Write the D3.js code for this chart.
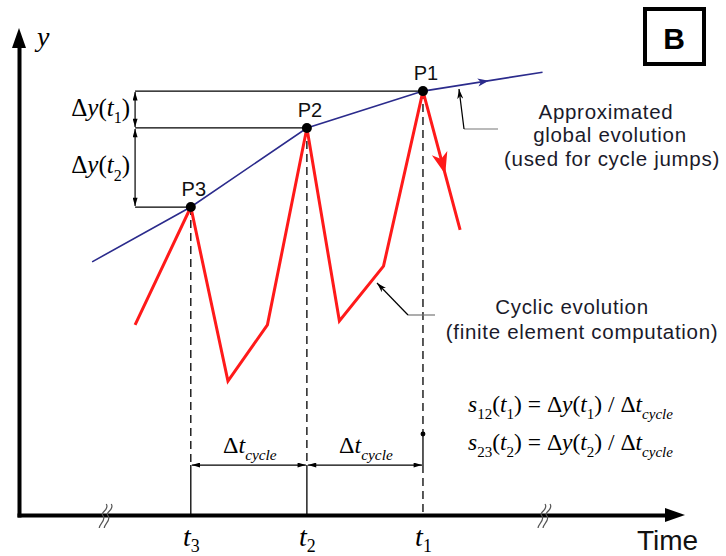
<!DOCTYPE html>
<html>
<head>
<meta charset="utf-8">
<script src="https://cdn.jsdelivr.net/npm/d3@7"></script>
<style>
  body { margin: 0; background: #fff; }
  text { white-space: pre; }
</style>
</head>
<body>
<svg id="chart" width="726" height="556"></svg>
<script>
// time is in cycles (t3 = 0, t2 = 1, t1 = 2), y in arbitrary units
var peakNames = ["P3", "P2", "P1"];
var peakTimes = [0, 1, 2];
var peakValues = [63.5, 79.8, 87.4];
var timeSubs = ["3", "2", "1"];
var slopeSubs = ["12", "23"];

// red curve: finite element computation, cycle by cycle
var cyclicTimes = [-0.48, 0, 0.32, 0.66, 1, 1.28, 1.66, 2, 2.32];
var cyclicValues = [39.2, 63.5, 27.6, 39.2, 79.8, 40.0, 51.3, 87.4, 58.8];

// blue curve: approximated global evolution through the peaks
var globalTimes = [-0.85, 0, 1, 2, 3.03];
var globalValues = [52.2, 63.5, 79.8, 87.4, 91.3];

var svg = d3.select("#chart");
var serif = "'Liberation Serif', 'Times New Roman', serif";
var sans = "'Liberation Sans', Arial, Helvetica, sans-serif";
var red = "#ff1a1a", blue = "#2b2b8c";

var x = d3.scaleLinear().domain([-1.48, 4.24]).range([19, 683]);
var y = d3.scaleLinear().domain([0, 100]).range([515, 30]);

var dimValue = 10.3;   // level of the delta t dimension line
var stubValue = 16.7;  // small tick above t1
var dimTime = -0.48;   // abscissa of the delta y dimension line

var cyclic = cyclicTimes.map(function(t, i) { return [t, cyclicValues[i]]; });
var global = globalTimes.map(function(t, i) { return [t, globalValues[i]]; });
var peaks = peakTimes.map(function(t, i) { return {t: t, v: peakValues[i], name: peakNames[i], sub: timeSubs[i]}; });

function rich(text, parts, size, drop) {
  var shift = 0;
  drop = drop || 0.3;
  parts.forEach(function(p) {
    var sub = p[1].indexOf("s") >= 0;
    var target = sub ? size * drop : 0;
    text.append("tspan")
      .attr("dy", target - shift)
      .attr("font-size", sub ? size * 0.64 : size)
      .attr("font-style", p[1].indexOf("i") >= 0 ? "italic" : "normal")
      .text(p[0]);
    shift = target;
  });
}

var defs = svg.append("defs");
defs.append("marker").attr("id", "dim")
  .attr("viewBox", "0 0 10 6").attr("refX", 10).attr("refY", 3)
  .attr("markerWidth", 9).attr("markerHeight", 5).attr("markerUnits", "userSpaceOnUse")
  .attr("orient", "auto-start-reverse")
  .append("path").attr("d", "M0,0L10,3L0,6Z").attr("fill", "#000");
defs.append("marker").attr("id", "lead")
  .attr("viewBox", "0 0 10 6").attr("refX", 10).attr("refY", 3)
  .attr("markerWidth", 10).attr("markerHeight", 6).attr("markerUnits", "userSpaceOnUse")
  .attr("orient", "auto")
  .append("path").attr("d", "M0,0L10,3L0,6L3,3Z").attr("fill", "#000");

// dashed guides from the peaks down to the time axis
var guides = svg.append("g").attr("stroke", "#000").attr("stroke-width", 1.3).attr("fill", "none");
peaks.forEach(function(p, i) {
  var last = i === peaks.length - 1;
  guides.append("line")
    .attr("x1", x(p.t)).attr("x2", x(p.t))
    .attr("y1", y(p.v)).attr("y2", y(last ? stubValue : dimValue))
    .attr("stroke-dasharray", "8,5");
  guides.append("line")
    .attr("x1", x(p.t)).attr("x2", x(p.t))
    .attr("y1", y(dimValue)).attr("y2", y(0))
    .attr("stroke-dasharray", last ? "8,5" : null);
  if (last) {
    guides.append("line")
      .attr("x1", x(p.t)).attr("x2", x(p.t))
      .attr("y1", y(stubValue)).attr("y2", y(dimValue));
    guides.append("circle").attr("cx", x(p.t)).attr("cy", y(stubValue)).attr("r", 1.8).attr("fill", "#000");
  }
});

// delta t dimension lines
var dims = svg.append("g").attr("stroke", "#000").attr("stroke-width", 1.2);
d3.pairs(peaks).forEach(function(pr) {
  dims.append("line")
    .attr("x1", x(pr[0].t) + 1).attr("x2", x(pr[1].t) - 1)
    .attr("y1", y(dimValue)).attr("y2", y(dimValue))
    .attr("marker-start", "url(#dim)").attr("marker-end", "url(#dim)");
  var lbl = svg.append("text")
    .attr("x", x((pr[0].t + pr[1].t) / 2) + 1).attr("y", y(dimValue) - 12)
    .attr("text-anchor", "middle").attr("font-family", serif).attr("fill", "#000");
  rich(lbl, [["\u0394", ""], ["t", "i"], ["cycle", "is"]], 24);
});

// delta y dimension lines
peaks.forEach(function(p) {
  dims.append("line")
    .attr("x1", x(dimTime)).attr("x2", x(p.t))
    .attr("y1", y(p.v)).attr("y2", y(p.v));
});
var desc = peaks.slice().reverse();
d3.pairs(desc).forEach(function(pr, i) {
  dims.append("line")
    .attr("x1", x(dimTime)).attr("x2", x(dimTime))
    .attr("y1", y(pr[0].v) + 1).attr("y2", y(pr[1].v) - 1)
    .attr("marker-start", "url(#dim)").attr("marker-end", "url(#dim)");
  var lbl = svg.append("text")
    .attr("x", x(dimTime) - 5).attr("y", (y(pr[0].v) + y(pr[1].v)) / 2 + 6)
    .attr("text-anchor", "end").attr("font-family", serif).attr("fill", "#000");
  rich(lbl, [["\u0394", ""], ["y", "i"], ["(", ""], ["t", "i"], [desc[i].sub, "s"], [")", ""]], 25);
});

// global evolution (blue) with a direction arrow
var line = d3.line().x(function(d) { return x(d[0]); }).y(function(d) { return y(d[1]); });
svg.append("path").datum(global).attr("d", line)
  .attr("fill", "none").attr("stroke", blue).attr("stroke-width", 1.6);

function arrowOn(a, b, f, shape, color) {
  var x0 = x(a[0]), y0 = y(a[1]), x1 = x(b[0]), y1 = y(b[1]);
  var px = x0 + (x1 - x0) * f, py = y0 + (y1 - y0) * f;
  var ang = Math.atan2(y1 - y0, x1 - x0) * 180 / Math.PI;
  svg.append("path").attr("d", shape).attr("fill", color)
    .attr("transform", "translate(" + px + "," + py + ") rotate(" + ang + ")");
}
arrowOn(global[3], global[4], 0.55, "M0,0L-11,-4L-8,0L-11,4Z", blue);

// cyclic evolution (red)
svg.append("path").datum(cyclic).attr("d", line)
  .attr("fill", "none").attr("stroke", red).attr("stroke-width", 3)
  .attr("stroke-linejoin", "miter");
arrowOn(cyclic[7], cyclic[8], 0.6, "M0,0L-22,-8L-16,0L-22,8Z", red);

// peaks
svg.append("g").selectAll("circle").data(peaks).join("circle")
  .attr("cx", function(d) { return x(d.t); }).attr("cy", function(d) { return y(d.v); })
  .attr("r", 5).attr("fill", "#000");
svg.append("g").selectAll("text").data(peaks).join("text")
  .attr("x", function(d) { return x(d.t) + 3; }).attr("y", function(d) { return y(d.v) - 11; })
  .attr("text-anchor", "middle").attr("font-family", sans).attr("font-size", 20)
  .attr("fill", "#111").text(function(d) { return d.name; });

// axes
var xAxisScale = x.copy().domain([x.invert(17), x.invert(670)]).range([17, 670]);
var gx = svg.append("g").attr("transform", "translate(0," + y(0) + ")")
  .call(d3.axisBottom(xAxisScale).tickValues(peakTimes).tickSize(0).tickSizeOuter(0).tickFormat(function() { return ""; }));
gx.select(".domain").attr("stroke", "#000").attr("stroke-width", 4);
gx.selectAll(".tick text").attr("y", 31).attr("dy", null)
  .attr("font-family", serif).attr("fill", "#000")
  .each(function(d, i) { rich(d3.select(this), [["t", "i"], [timeSubs[i], "s"]], 28, 0.2); });
svg.append("path").attr("d", "M" + 685 + "," + y(0) + "l-20,-7l0,14Z").attr("fill", "#000");

var yAxisScale = y.copy().domain([y.invert(517), y.invert(44)]).range([517, 44]);
var gy = svg.append("g").attr("transform", "translate(" + x(-1.48) + ",0)")
  .call(d3.axisLeft(yAxisScale).tickValues([]).tickSizeOuter(0));
gy.select(".domain").attr("stroke", "#000").attr("stroke-width", 4);
svg.append("path").attr("d", "M" + x(-1.48) + ",28l-7,20l14,0Z").attr("fill", "#000");

// axis breaks
[-0.72, 3.06].forEach(function(t) {
  var cx = x(t), cy = y(0);
  [0, -5].forEach(function(o) {
    svg.append("path")
      .attr("d", "M" + (cx + o + 4) + "," + (cy - 11) + "c4,6 -7,8 -3,12c3,4 -4,8 -4,12")
      .attr("fill", "none").attr("stroke", "#555").attr("stroke-width", 1.2);
  });
});

svg.append("text").attr("x", 37).attr("y", 46).attr("font-family", serif)
  .attr("font-style", "italic").attr("font-size", 28).attr("fill", "#000").text("y");
svg.append("text").attr("x", 637).attr("y", 550).attr("font-family", sans)
  .attr("font-size", 28).attr("fill", "#111").text("Time");

// panel tag
svg.append("rect").attr("x", 645).attr("y", 9).attr("width", 59).attr("height", 55)
  .attr("fill", "none").attr("stroke", "#000").attr("stroke-width", 4);
svg.append("text").attr("x", 674).attr("y", 49).attr("text-anchor", "middle")
  .attr("font-family", sans).attr("font-weight", "bold").attr("font-size", 30).text("B");

// annotations
var notes = svg.append("g").attr("font-family", sans).attr("font-size", 20.5)
  .attr("letter-spacing", 0.7).attr("fill", "#1a1a2a").attr("text-anchor", "middle");
[["Approximated", 606, 119], ["global evolution", 610, 142], ["(used for cycle jumps)", 612, 166],
 ["Cyclic evolution", 572, 314], ["(finite element computation)", 582, 339]]
  .forEach(function(n) { notes.append("text").attr("x", n[1]).attr("y", n[2]).text(n[0]); });

var leaders = svg.append("g").attr("fill", "none").attr("stroke-width", 1.2);
leaders.append("path").attr("d", "M498,129H464").attr("stroke", "#777");
leaders.append("path").attr("d", "M464,129L459,89").attr("stroke", "#000").attr("marker-end", "url(#lead)");
leaders.append("path").attr("d", "M435,315H408").attr("stroke", "#777");
leaders.append("path").attr("d", "M408,315L377,283").attr("stroke", "#000").attr("marker-end", "url(#lead)");

// slope formulas
slopeSubs.forEach(function(s, i) {
  var f = svg.append("text").attr("x", 468).attr("y", 412 + i * 38)
    .attr("font-family", serif).attr("fill", "#000");
  rich(f, [["s", "i"], [s, "s"], ["(", ""], ["t", "i"], [timeSubs[2 - i], "s"], [") = \u0394", ""],
           ["y", "i"], ["(", ""], ["t", "i"], [timeSubs[2 - i], "s"], [") / \u0394", ""],
           ["t", "i"], ["cycle", "is"]], 23.5);
});
</script>
</body>
</html>
